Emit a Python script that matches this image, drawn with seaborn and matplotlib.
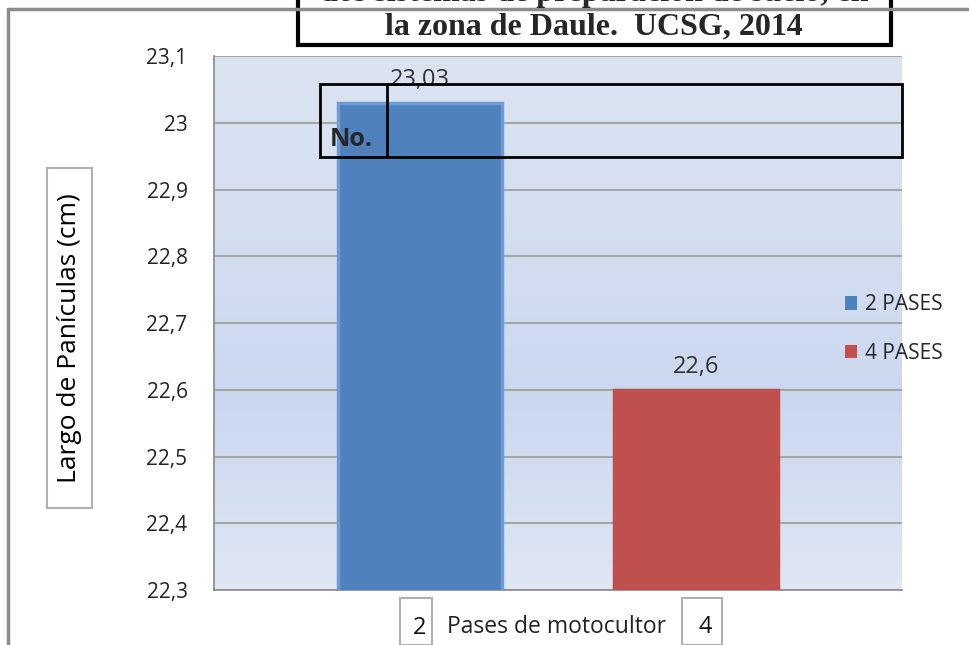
import numpy as np
import pandas as pd
import matplotlib
matplotlib.use("Agg")
import matplotlib.pyplot as plt
from matplotlib.patches import Rectangle
from matplotlib.lines import Line2D
from matplotlib.colors import LinearSegmentedColormap
import seaborn as sns

# data
categorias = ["2", "4"]
series = ["2 PASES", "4 PASES"]
largo = [23.03, 22.6]
etiquetas = ["23,03", "22,6"]
colores = ["#4f81bd", "#c0504d"]
yticks = [22.3, 22.4, 22.5, 22.6, 22.7, 22.8, 22.9, 23.0, 23.1]

sns.set_style("white")
plt.rcParams['font.family'] = ['Open Sans', 'DejaVu Sans']

W, H = 970, 645
fig = plt.figure(figsize=(9.7, 6.45), dpi=100)
fig.patch.set_facecolor("white")

def fx(x):
    return x / W

def fy(y):
    return 1 - y / H

ax = fig.add_axes([fx(214), fy(590), fx(902) - fx(214), fy(56) - fy(590)])

df = pd.DataFrame({"pases": categorias, "largo": largo, "serie": series})
sns.barplot(data=df, x="pases", y="largo", hue="serie", palette=colores,
            dodge=False, width=0.594, saturation=1, ax=ax, zorder=3, legend=False)

xlim = (-0.746, 1.746)
ylim = (22.3, 23.1)
ax.set_xlim(*xlim)
ax.set_ylim(*ylim)

# bevel-ish edges on bars
for p, ec in zip(ax.patches, ["#6f9bd3", "#c0504d"]):
    p.set_edgecolor(ec)
    p.set_linewidth(2.5)

# gradient background
cmap = LinearSegmentedColormap.from_list(
    "bg", [(0, "#e0e7f5"), (0.35, "#cad8ef"), (0.7, "#d5dff1"), (1, "#dce4f1")])
grad = np.linspace(0, 1, 256).reshape(-1, 1)
ax.imshow(grad, extent=[xlim[0], xlim[1], ylim[0], ylim[1]], origin="lower",
          aspect="auto", cmap=cmap, zorder=0)

for v in yticks:
    ax.axhline(v, color="#a6a6a6", lw=1.5, zorder=1)

ax.set_yticks(yticks)
ax.set_yticklabels([f"{v:g}".replace(".", ",") for v in yticks], fontsize=15, color="#222222")
ax.tick_params(axis="y", length=7, width=1.2, color="#909090", pad=12)
ax.set_xticks([])
ax.set_xlabel("")
ax.set_ylabel("")
for s in ["top", "right"]:
    ax.spines[s].set_visible(False)
ax.spines["left"].set_color("#909090")
ax.spines["bottom"].set_color("#909090")
ax.spines["left"].set_linewidth(1.3)
ax.spines["bottom"].set_linewidth(1.3)

# data labels
for i, (v, t) in enumerate(zip(largo, etiquetas)):
    ax.annotate(t, (i, v), xytext=(0, 8), textcoords="offset points",
                ha="center", va="bottom", fontsize=17, color="#333333", zorder=5)

# legend
handles = [Rectangle((0, 0), 1, 1, facecolor=c, edgecolor="none") for c in colores]
fig.legend(handles, series, loc="center left",
           bbox_to_anchor=(fx(826), fy(329)), frameon=False, fontsize=15,
           handlelength=0.6, handleheight=0.6, handletextpad=0.35, labelspacing=1.3)

# chart frame lines
fig.add_artist(Line2D([fx(8), fx(8)], [fy(9), 0], color="#8c8c8c", lw=2.5))
fig.add_artist(Line2D([fx(8), 1], [fy(9), fy(9)], color="#8c8c8c", lw=2.5))

# y label in a box
fig.add_artist(Rectangle((fx(47), fy(508)), fx(92) - fx(47), fy(168) - fy(508),
                         fill=False, edgecolor="#b0b0b0", lw=1.5))
fig.text(fx(70), fy(338), "Largo de Panículas (cm)", rotation=90,
         ha="center", va="center", fontsize=19, fontweight="medium", color="#000000")

# x labels in boxes
fig.add_artist(Rectangle((fx(400), 0), fx(432) - fx(400), fy(598), fill=False,
                         edgecolor="#b0b0b0", lw=1.5))
fig.add_artist(Rectangle((fx(682), 0), fx(722) - fx(682), fy(598), fill=False,
                         edgecolor="#b0b0b0", lw=1.5))
fig.text(fx(420), fy(628), categorias[0], ha="center", va="center", fontsize=17, color="#111111")
fig.text(fx(705), fy(627), categorias[1], ha="center", va="center", fontsize=17, color="#111111")
fig.text(fx(557), fy(627), "Pases de motocultor", ha="center", va="center",
         fontsize=16.5, color="#222222")

# title box (cut at the top of the page)
fig.add_artist(Rectangle((fx(298), fy(45)), fx(891) - fx(298), 0.2, fill=True,
                         facecolor="white", edgecolor="black", lw=3, clip_on=False))
fig.text(fx(594), fy(-6), "dos sistemas de preparación de suelo, en", ha="center",
         va="center", fontsize=23, fontweight="bold", family="Liberation Serif")
fig.text(fx(594), fy(27), "la zona de Daule.  UCSG, 2014", ha="center", va="center",
         fontsize=23, fontweight="bold", family="Liberation Serif")

# "No." box overlay
fig.add_artist(Rectangle((fx(320), fy(157)), fx(902) - fx(320), fy(84) - fy(157),
                         fill=False, edgecolor="black", lw=2))
fig.add_artist(Line2D([fx(387), fx(387)], [fy(157), fy(84)], color="black", lw=2))
fig.text(fx(330), fy(139), "No.", ha="left", va="center", fontsize=18, fontweight="bold")

fig.savefig("out.png", dpi=100)
